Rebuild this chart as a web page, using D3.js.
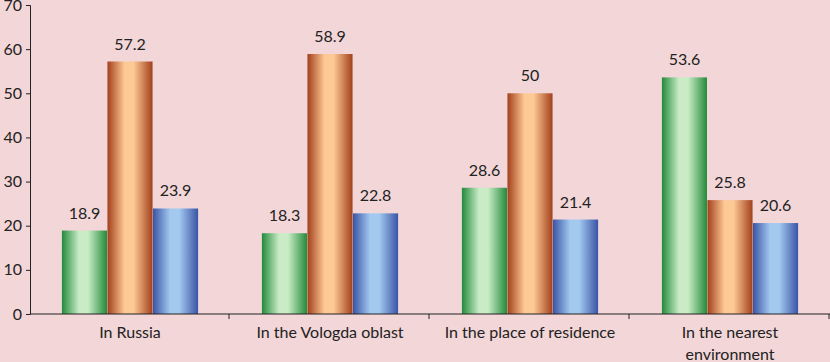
<!DOCTYPE html>
<html>
<head>
<meta charset="utf-8">
<script src="https://cdn.jsdelivr.net/npm/d3@7"></script>
<style>
body { margin: 0; background: #f2d6d8; }
svg { display: block; }
text { font-family: Lato, "Open Sans", sans-serif; fill: #222; }
</style>
</head>
<body>
<div id="chart"></div>
<script>
'use strict';

var categories = ["In Russia", "In the Vologda oblast", "In the place of residence", "In the nearest environment"];
var seriesNames = ["s1", "s2", "s3"];
var s1 = [18.9, 18.3, 28.6, 53.6];
var s2 = [57.2, 58.9, 50, 25.8];
var s3 = [23.9, 22.8, 21.4, 20.6];
var yTicks = [0, 10, 20, 30, 40, 50, 60, 70];

var W = 830, H = 362;
var margin = {top: 5, right: 0, bottom: 48, left: 30};

var svg = d3.select("#chart").append("svg")
    .attr("width", W).attr("height", H);

var defs = svg.append("defs");
var grads = [
    {id: "g0", edge: "#238a3a", mid: "#c9ecc6"},
    {id: "g1", edge: "#a3401c", mid: "#fdc995"},
    {id: "g2", edge: "#3a54a6", mid: "#a3c9ef"}
];
grads.forEach(function(g) {
    var lg = defs.append("linearGradient").attr("id", g.id)
        .attr("x1", "0%").attr("x2", "100%").attr("y1", "0%").attr("y2", "0%");
    lg.append("stop").attr("offset", "0%").attr("stop-color", g.edge);
    lg.append("stop").attr("offset", "38%").attr("stop-color", g.mid);
    lg.append("stop").attr("offset", "58%").attr("stop-color", g.mid);
    lg.append("stop").attr("offset", "100%").attr("stop-color", g.edge);
});

var x0 = d3.scaleBand().domain(categories)
    .range([margin.left, W - margin.right]).paddingInner(0).paddingOuter(0);
var x1 = d3.scaleBand().domain(seriesNames)
    .range([0, x0.bandwidth()]).paddingOuter(0.7).paddingInner(0.01);
var y = d3.scaleLinear().domain([0, 70]).range([H - margin.bottom, margin.top]);

var data = categories.map(function(c, i) {
    return {cat: c, vals: [s1[i], s2[i], s3[i]]};
});

var g = svg.selectAll("g.cat").data(data).enter().append("g")
    .attr("class", "cat")
    .attr("transform", function(d) { return "translate(" + x0(d.cat) + ",0)"; });

g.selectAll("rect").data(function(d) { return d.vals; }).enter().append("rect")
    .attr("x", function(d, i) { return x1(seriesNames[i]); })
    .attr("y", function(d) { return y(d); })
    .attr("width", x1.bandwidth())
    .attr("height", function(d) { return y(0) - y(d); })
    .attr("fill", function(d, i) { return "url(#g" + i + ")"; });

g.selectAll("text.lbl").data(function(d) { return d.vals; }).enter().append("text")
    .attr("class", "lbl")
    .attr("x", function(d, i) { return x1(seriesNames[i]) + x1.bandwidth() / 2; })
    .attr("y", function(d) { return y(d) - 12; })
    .attr("text-anchor", "middle")
    .attr("font-size", 16)
    .text(function(d) { return d; });

// axes
var yAxis = svg.append("g").attr("transform", "translate(" + margin.left + ",0)")
    .call(d3.axisLeft(y).tickValues(yTicks).tickSize(4).tickPadding(4));
yAxis.selectAll("text").attr("font-size", 16).attr("font-family", "Lato, sans-serif").attr("fill", "#222");
yAxis.selectAll("line, .domain").attr("stroke", "#222");

var xAxis = svg.append("g").attr("transform", "translate(0," + y(0) + ")");
xAxis.append("line")
    .attr("x1", margin.left).attr("x2", W - margin.right)
    .attr("stroke", "#222");
xAxis.selectAll("line.tk").data(categories).enter().append("line")
    .attr("class", "tk")
    .attr("x1", function(d) { return x0(d) + x0.bandwidth() - 1; })
    .attr("x2", function(d) { return x0(d) + x0.bandwidth() - 1; })
    .attr("y1", 0).attr("y2", 5)
    .attr("stroke", "#222");

var labelLines = {
    "In the nearest environment": ["In the nearest", "environment"]
};
xAxis.selectAll("text.cl").data(categories).enter().append("text")
    .attr("class", "cl")
    .attr("text-anchor", "middle")
    .attr("font-size", 16)
    .attr("x", function(d) { return x0(d) + x0.bandwidth() / 2; })
    .attr("y", 24)
    .each(function(d) {
        var lines = labelLines[d] || [d];
        var t = d3.select(this);
        lines.forEach(function(l, i) {
            t.append("tspan").attr("x", x0(d) + x0.bandwidth() / 2)
                .attr("dy", i === 0 ? 0 : 22).text(l);
        });
    });
</script>
</body>
</html>
